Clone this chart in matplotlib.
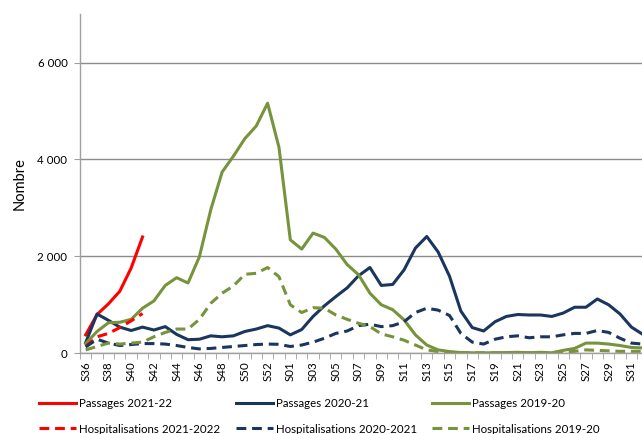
import numpy as np
import matplotlib
matplotlib.use("Agg")
import matplotlib.pyplot as plt

plt.rcParams['font.family'] = ['Lato', 'DejaVu Sans']

# semaines (axe des catégories)
weeks = ["S36", "S37", "S38", "S39", "S40", "S41", "S42", "S43", "S44", "S45",
         "S46", "S47", "S48", "S49", "S50", "S51", "S52", "S53", "S01", "S02",
         "S03", "S04", "S05", "S06", "S07", "S08", "S09", "S10", "S11", "S12",
         "S13", "S14", "S15", "S16", "S17", "S18", "S19", "S20", "S21", "S22",
         "S23", "S24", "S25", "S26", "S27", "S28", "S29", "S30", "S31", "S32"]

passages_2122 = [380, 800, 1020, 1280, 1760, 2400]
hosp_2122 = [140, 340, 410, 530, 670, 820]

passages_2021 = [220, 810, 680, 540, 470, 540, 480, 550, 390, 280,
                 290, 360, 340, 360, 450, 500, 570, 520, 380, 490,
                 760, 980, 1170, 1350, 1600, 1770, 1400, 1420, 1720, 2170,
                 2410, 2090, 1590, 870, 530, 460, 650, 760, 800, 790,
                 790, 760, 830, 950, 950, 1120, 1000, 810, 540, 390]
hosp_2021 = [130, 290, 210, 160, 180, 200, 200, 190, 160, 120,
             90, 100, 120, 140, 160, 180, 190, 185, 140, 170,
             230, 310, 410, 460, 570, 600, 550, 570, 650, 840,
             930, 890, 780, 410, 230, 190, 290, 340, 360, 320,
             340, 340, 380, 410, 410, 470, 430, 310, 210, 190]

passages_1920 = [200, 450, 630, 640, 700, 930, 1080, 1400, 1560, 1450,
                 1990, 2960, 3740, 4070, 4430, 4690, 5160, 4250, 2340, 2150,
                 2480, 2390, 2150, 1830, 1620, 1240, 1000, 900, 690, 380,
                 170, 70, 35, 15, 10, 10, 10, 15, 20, 10,
                 20, 10, 60, 100, 210, 210, 190, 160, 120, 110]
hosp_1920 = [70, 140, 210, 190, 210, 230, 340, 430, 500, 500,
             700, 1030, 1240, 1390, 1630, 1650, 1770, 1580, 1000, 840,
             940, 930, 790, 700, 620, 550, 400, 340, 270, 170,
             70, 35, 20, 10, 10, 10, 10, 10, 10, 10,
             10, 10, 30, 40, 70, 60, 50, 40, 40, 40]

RED = "#FF0000"
NAVY = "#1B365E"
GREEN = "#77933C"
dash = (3.2, 1.9)

fig = plt.figure(figsize=(6.42, 4.34), dpi=100)
ax = fig.add_axes([0.1246, 0.186, 0.8754, 0.7816])

x = np.arange(len(weeks))
lw = 2.2
l1, = ax.plot(x[:len(passages_2122)], passages_2122, color=RED, lw=lw, label="Passages 2021-22")
l2, = ax.plot(x, passages_2021, color=NAVY, lw=lw, label="Passages 2020-21")
l3, = ax.plot(x, passages_1920, color=GREEN, lw=lw, label="Passages 2019-20")
l4, = ax.plot(x[:len(hosp_2122)], hosp_2122, color=RED, lw=lw, dashes=dash, label="Hospitalisations 2021-2022")
l5, = ax.plot(x, hosp_2021, color=NAVY, lw=lw, dashes=dash, label="Hospitalisations 2020-2021")
l6, = ax.plot(x, hosp_1920, color=GREEN, lw=lw, dashes=dash, label="Hospitalisations 2019-20")
for l in (l1, l2, l3, l4, l5, l6):
    l.set_solid_joinstyle('round')
    l.set_dash_capstyle('butt')

ax.set_xlim(-0.5, 48.93)
ax.set_ylim(0, 7000)

ax.set_yticks([0, 2000, 4000, 6000])
ax.set_yticklabels(["0", "2 000", "4 000", "6 000"], fontsize=8.3)
ax.yaxis.grid(True, color="#8C8C8C", lw=1)
ax.set_axisbelow(True)
ax.tick_params(axis='y', length=4, color="#A0A0A0", pad=5)

ax.set_xticks(x[::2])
ax.set_xticklabels(weeks[::2], rotation=90, fontsize=8.3)
ax.set_xticks(np.arange(-0.5, 49, 1), minor=True)
ax.tick_params(axis='x', which='major', length=0, pad=6)
ax.tick_params(axis='x', which='minor', length=4, color="#A0A0A0")

for s in ('top', 'right'):
    ax.spines[s].set_visible(False)
for s in ('left', 'bottom'):
    ax.spines[s].set_color("#A0A0A0")
    ax.spines[s].set_linewidth(1)

ax.set_ylabel("Nombre", fontsize=10.5, labelpad=8)

# légende : une colonne par saison, placées à la main
cols = [(l1, l4), (l2, l5), (l3, l6)]
col_x = [39, 236, 432]
for (a, b), px in zip(cols, col_x):
    leg = fig.legend(handles=[a, b], loc='upper left',
                     bbox_to_anchor=(px / 642, 0.083), frameon=False,
                     fontsize=8.3, handlelength=3.2, handletextpad=0.25,
                     labelspacing=1.26, borderpad=0, borderaxespad=0)

fig.savefig("out.png", dpi=100)
